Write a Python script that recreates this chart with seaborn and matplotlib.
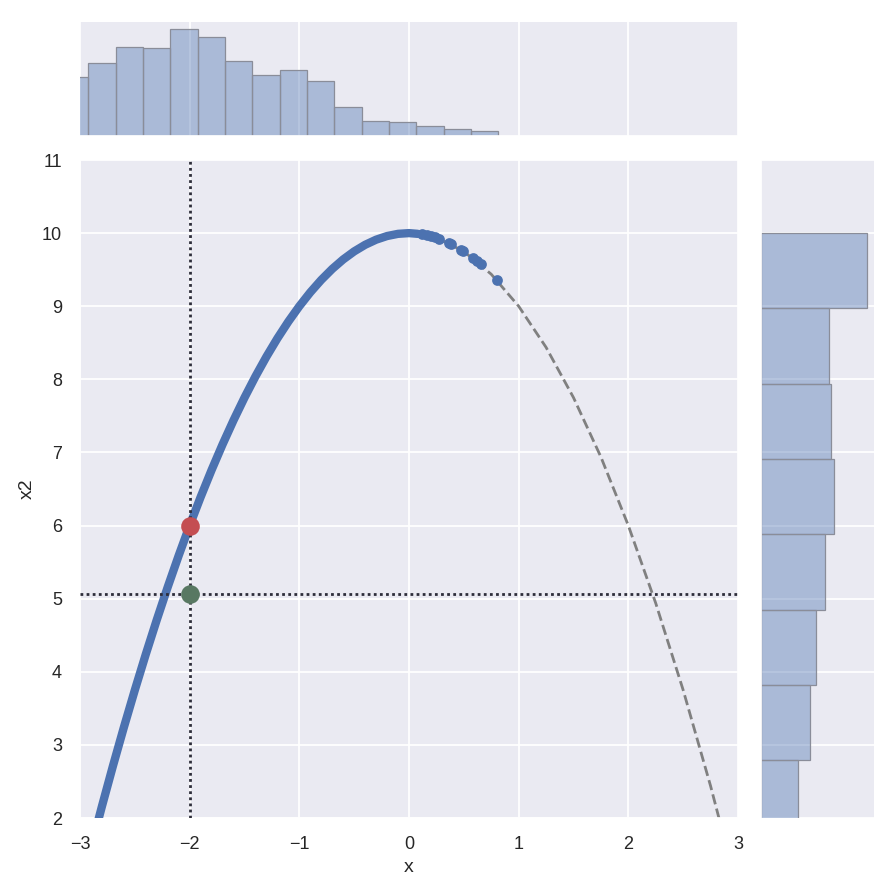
import numpy as np
import pandas as pd
import seaborn as sns
import matplotlib.pyplot as plt

# dense band of samples along the curve (x, x2)
band_x = [-3.0, -2.9, -2.8, -2.7, -2.6, -2.5, -2.4, -2.3, -2.2, -2.1, -2.0,
          -1.9, -1.8, -1.7, -1.6, -1.5, -1.4, -1.3, -1.2, -1.1, -1.0,
          -0.9, -0.8, -0.7, -0.6, -0.5, -0.4, -0.3, -0.2, -0.1, 0.0, 0.08]
band_y = [1.0, 1.59, 2.16, 2.71, 3.24, 3.75, 4.24, 4.71, 5.16, 5.59, 6.0,
          6.39, 6.76, 7.11, 7.44, 7.75, 8.04, 8.31, 8.56, 8.79, 9.0,
          9.19, 9.36, 9.51, 9.64, 9.75, 9.84, 9.91, 9.96, 9.99, 10.0, 9.99]

# sparse samples right of the peak
sparse_x = [0.12, 0.16, 0.2, 0.24, 0.275, 0.365, 0.385, 0.475, 0.495,
            0.585, 0.62, 0.655, 0.8]
sparse_y = [9.986, 9.974, 9.96, 9.942, 9.924, 9.867, 9.852, 9.774, 9.755,
            9.658, 9.616, 9.571, 9.36]

# model curve (dashed)
curve_x = [-3.0, -2.75, -2.5, -2.25, -2.0, -1.75, -1.5, -1.25, -1.0, -0.75,
           -0.5, -0.25, 0.0, 0.25, 0.5, 0.75, 1.0, 1.25, 1.5, 1.75, 2.0,
           2.25, 2.5, 2.75, 3.0]
curve_y = [1.0, 2.4375, 3.75, 4.9375, 6.0, 6.9375, 7.75, 8.4375, 9.0, 9.4375,
           9.75, 9.9375, 10.0, 9.9375, 9.75, 9.4375, 9.0, 8.4375, 7.75, 6.9375,
           6.0, 4.9375, 3.75, 2.4375, 1.0]

# highlighted points
x_obs = -2.0
y_obs = 5.06
y_model = 6.0

# marginal histogram of x
x_edges = [-3.173, -2.924, -2.675, -2.426, -2.176, -1.927, -1.678, -1.429,
           -1.180, -0.931, -0.682, -0.433, -0.183, 0.066, 0.315, 0.564, 0.814]
x_counts = [59, 73, 89, 88, 107, 99, 75, 61, 66, 55, 29, 15, 14, 10, 7, 5]

# marginal histogram of x2
y_edges = [1.76, 2.79, 3.82, 4.85, 5.88, 6.91, 7.94, 8.97, 10.0]
y_counts = [37, 49, 55, 64, 73, 70, 68, 106]

blue = '#4C72B0'

sns.set_theme(style='darkgrid', rc={
    'grid.linewidth': 1.3,
    'axes.labelcolor': '#262626',
    'xtick.color': '#262626',
    'ytick.color': '#262626',
})
plt.rcParams['font.family'] = ['Liberation Sans', 'DejaVu Sans']

g = sns.JointGrid(height=8.96, ratio=6, space=0.2)
fig = g.figure
ax = g.ax_joint
ax.set_position([80 / 896, 78 / 896, 658 / 896, 658 / 896])
g.ax_marg_x.set_position([80 / 896, 760 / 896, 658 / 896, 114 / 896])
g.ax_marg_y.set_position([761 / 896, 78 / 896, 113 / 896, 658 / 896])

# curve and samples
sns.lineplot(x=curve_x, y=curve_y, ax=ax, color='gray', lw=2, linestyle='--',
             sort=False, estimator=None, zorder=2)
sns.lineplot(x=band_x, y=band_y, ax=ax, color=blue, lw=6, sort=False,
             estimator=None, solid_capstyle='round', zorder=3)
sns.scatterplot(x=sparse_x, y=sparse_y, ax=ax, color=blue, s=60, linewidth=0, zorder=3)

dots = (0, (1, 1.2))
ax.axvline(x_obs, color='#2d2d3a', ls=dots, lw=2, zorder=4)
ax.axhline(y_obs, color='#2d2d3a', ls=dots, lw=2, zorder=4)
sns.scatterplot(x=[x_obs], y=[y_model], ax=ax, color='#C44E52', s=180, linewidth=0, zorder=5)
sns.scatterplot(x=[x_obs], y=[y_obs], ax=ax, color='#587862', s=180, linewidth=0, zorder=5)

ax.set_xlim(-3, 3)
ax.set_ylim(2, 11)
ax.set_xticks(range(-3, 4))
ax.set_yticks(range(2, 12))
ax.tick_params(labelsize=13, pad=7)
ax.set_xlabel('x', fontsize=14)
ax.set_ylabel('x2', fontsize=14)

# marginals
sns.histplot(x=x_edges[:-1], weights=x_counts, bins=x_edges, ax=g.ax_marg_x,
             color=blue, alpha=0.4, edgecolor='#8a8d99', linewidth=0.9)
sns.histplot(y=y_edges[:-1], weights=y_counts, bins=y_edges, ax=g.ax_marg_y,
             color=blue, alpha=0.4, edgecolor='#8a8d99', linewidth=0.9)
for p in g.ax_marg_x.patches + g.ax_marg_y.patches:
    p.set_edgecolor('#8a8d99')
g.ax_marg_x.set_ylim(0, 114)
g.ax_marg_y.set_xlim(0, 113)
g.ax_marg_x.yaxis.grid(False)
g.ax_marg_y.xaxis.grid(False)
g.ax_marg_x.tick_params(labelbottom=False, labelleft=False)
g.ax_marg_y.tick_params(labelbottom=False, labelleft=False)
g.ax_marg_x.set_xlabel('')
g.ax_marg_x.set_ylabel('')
g.ax_marg_y.set_xlabel('')
g.ax_marg_y.set_ylabel('')

fig.savefig('out.png', dpi=100)
